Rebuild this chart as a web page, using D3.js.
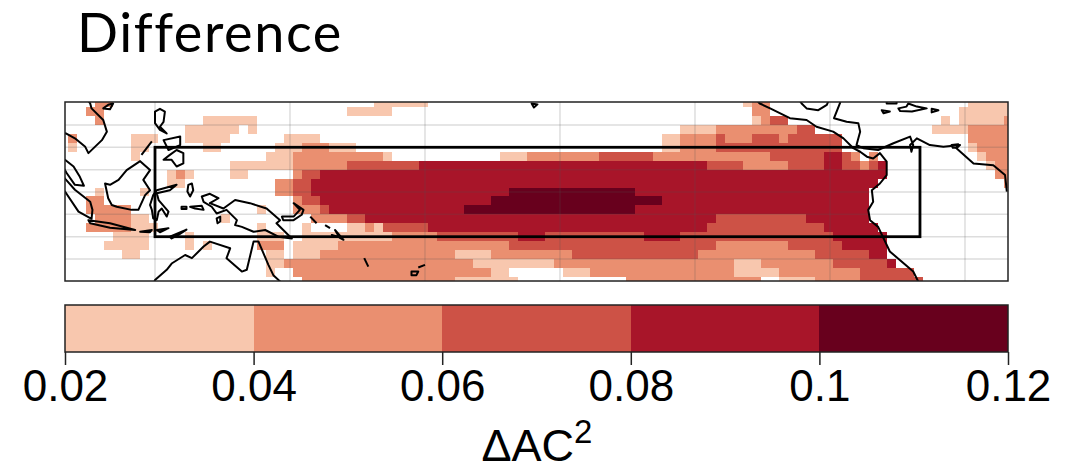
<!DOCTYPE html>
<html>
<head>
<meta charset="utf-8">
<script src="https://d3js.org/d3.v7.min.js"></script>
<style>
  html, body { margin: 0; padding: 0; background: #fff; }
  svg { display: block; }
</style>
</head>
<body>
<svg id="chart" width="1084" height="466"></svg>
<script>
// colour bar
const levelEdges = [0.02, 0.04, 0.06, 0.08, 0.1, 0.12];
const levelColors = ["#f8c7ae", "#ea8f70", "#cd5246", "#a81529", "#68001d"];
const tickNames = ["0.02", "0.04", "0.06", "0.08", "0.1", "0.12"];

// 2 degree grid, one list per latitude: [first column, last column, level 1-5]
const firstLon = 99.67;
const firstLat = 20;
const row0 = [[4,5,2],[35,40,1],[76,76,1],[77,78,2],[101,105,1]];
const row1 = [[3,4,2],[32,36,1],[77,78,2],[100,105,1]];
const row2 = [[4,4,2],[16,21,1],[77,77,1],[78,78,2],[79,80,3],[98,98,1],[100,104,1],[105,105,2]];
const row3 = [[14,19,1],[21,21,1],[69,72,1],[73,81,2],[82,83,3],[97,100,1],[101,105,2]];
const row4 = [[1,1,2],[8,10,1],[14,18,1],[25,28,1],[67,68,1],[69,72,2],[73,73,3],[74,76,2],[77,79,3],[80,80,2],[81,86,3],[101,105,2]];
const row5 = [[1,1,1],[8,9,1],[16,17,1],[24,26,1],[27,29,2],[30,32,1],[67,68,1],[69,72,2],[73,86,3],[101,101,1],[102,105,2]];
const row6 = [[8,8,1],[23,25,1],[26,35,2],[36,36,1],[49,51,1],[52,59,2],[60,65,3],[66,78,2],[79,84,3],[85,86,4],[87,87,3],[88,88,2],[90,90,2],[102,102,1],[103,105,2]];
const row7 = [[19,25,1],[26,31,2],[32,39,3],[40,71,4],[72,75,3],[76,80,2],[81,84,3],[85,86,4],[87,88,3],[89,89,2],[90,90,3],[91,91,4],[103,103,1],[104,105,2]];
const row8 = [[12,12,1],[13,13,2],[14,14,1],[19,20,1],[26,26,2],[27,28,3],[29,91,4],[104,105,2]];
const row9 = [[12,13,1],[24,25,2],[26,27,3],[28,90,4],[105,105,2]];
const row10 = [[4,4,1],[9,9,1],[24,25,2],[26,27,3],[28,49,4],[50,63,5],[64,89,4]];
const row11 = [[3,4,2],[26,26,2],[27,28,3],[29,47,4],[48,66,5],[67,89,4]];
const row12 = [[3,7,2],[22,22,1],[26,28,2],[29,29,3],[30,44,4],[45,63,5],[64,89,4]];
const row13 = [[4,7,2],[8,9,1],[18,18,1],[28,31,2],[32,33,3],[34,72,4],[73,82,3],[83,89,4]];
const row14 = [[3,7,2],[8,10,1],[22,22,1],[27,27,1],[32,33,1],[34,34,2],[35,35,1],[36,40,3],[41,71,4],[72,84,3],[85,90,4]];
const row15 = [[6,9,1],[14,14,1],[22,24,1],[27,36,1],[37,41,2],[42,50,3],[51,53,4],[54,64,3],[65,68,4],[69,85,3],[86,91,4]];
const row16 = [[5,9,1],[14,14,1],[16,16,1],[22,24,2],[26,30,1],[31,49,2],[50,72,3],[73,80,2],[81,86,3],[87,91,4]];
const row17 = [[7,8,1],[23,24,1],[26,28,1],[29,43,2],[44,47,1],[48,56,2],[57,70,3],[71,83,2],[84,89,3],[90,91,4]];
const row18 = [[23,24,1],[25,45,2],[46,54,1],[55,74,2],[75,77,1],[78,85,2],[86,91,3],[92,92,4]];
const row19 = [[23,23,1],[26,47,2],[48,49,1],[56,58,1],[59,74,2],[75,79,1],[80,88,2],[89,94,3]];
const row20 = [[27,43,2],[44,50,1],[63,77,2],[80,83,1],[84,88,2],[89,95,3]];
const heatRows = [row0,row1,row2,row3,row4,row5,row6,row7,row8,row9,row10,row11,row12,row13,row14,row15,row16,row17,row18,row19,row20];

// coastlines, [lon, lat], traced by eye
const coastOpen = [
  [[105.3,20.2],[105.6,19.8],[105.9,18.7],[108.5,16.1],[109.3,13.5],[108.2,11.6],[105.2,8.7],[104.5,10.1],[102.2,12],[100.2,13.1],[99.8,13.2]],
  [[99.8,7.3],[100,7.2],[101.9,5.7],[103.3,3.4],[104.2,1.4],[102.2,1.6],[100.4,4.2],[99.8,5.2]],
  [[99.8,3.2],[100,3],[102.2,.5],[105.6,-2.2],[106.1,-4],[105.9,-6],[103,-4.4],[100,.1],[99.8,.3]],
  [[119.8,-20.2],[120,-19.7],[122.6,-17.4],[123.7,-16],[126.7,-14.1],[128.2,-14.8],[130.8,-12.2],[132.2,-11.1],[136.7,-12.6],[135.9,-14.8],[139.3,-17.8],[140.4,-17.4],[141.9,-11.1],[143,-11.1],[145.2,-16.3],[146.3,-18.6],[147.8,-20],[148,-20.2]],
  [[117,8.3],[119.3,11.3]],
  [[154.5,-5.5],[155.9,-7]],
  [[157.8,-7.4],[158.9,-8.1]],
  [[166.5,-14.8],[167.4,-16.7]],
  [[178.5,-16.9],[180,-16.3]],
  [[254,20.2],[254.4,19.8],[256.7,18.7],[261.1,16.5],[264.8,16.1],[267,14.6],[270.7,13.5],[273,12],[275.2,9.8],[276.7,9],[278.2,7.9],[279.6,7.5],[281.1,8.7],[282.6,6.8],[282.6,3.8],[281.1,1.9],[279.3,.4],[279.6,-2.2],[278.5,-4],[278.9,-6.3],[280.7,-7.8],[283.3,-13.3],[288.5,-17.8],[289.6,-20],[289.7,-20.2]],
  [[263.4,20.2],[263.7,19.8],[264.8,18.7],[267.4,18.3],[269.3,19.5],[269.6,20.2]],
  [[272.3,20.2],[272.2,19.8],[270.9,16.5],[273.7,15.7],[276.3,15.4],[276.7,13.5],[275.9,10.5],[277.4,9.8],[280.7,9.4],[284.1,10.9],[287.8,12.4],[288.5,10.5],[288.1,9],[287.8,10.5],[289.3,12],[292.2,10.5],[295.2,10.1],[298.9,10.5],[298.1,9.8],[301.9,6.4],[306.3,6],[308.9,3.8],[309.3,.1]],
  [[282.6,20.2],[282.6,19.8],[284.8,19.8],[284.8,20.2]]
];
const coastClosed = [
  [[108.5,18.7],[109.6,19.5],[110.7,19.8],[110,18.5]],
  [[105.2,-6.3],[110,-7],[115.6,-8.5],[110,-8],[105.6,-7]],
  [[108.9,1.9],[110,1.6],[111.9,2.7],[113.7,4.9],[116.7,6.9],[118.9,4.9],[117.4,2.7],[118.9,.4],[117.8,-.7],[116.3,-4],[114.8,-4],[111.5,-3.3],[110.4,-2.9],[109.6,-1.4]],
  [[120,18],[121.1,18.6],[122.2,18],[121.9,15.7],[121.1,14.6],[122.6,13.1],[121.1,13.9],[120,15.4]],
  [[121.9,11.6],[125.6,12.4],[125.6,10.5],[123,9.4]],
  [[121.9,7.2],[123.3,8.3],[124.8,9.4],[126.3,8.7],[126.3,6.4],[124.8,5.7],[123.7,7.2]],
  [[118.9,-2.9],[119.6,-.7],[120.4,.4],[124.8,1.6],[123.3,.4],[120.4,-.3],[120.8,-1.8],[123,-4.4],[122.6,-5.5],[121.5,-3.7],[120.8,-4.4],[120.4,-6.3],[119.6,-5.9],[119.3,-4]],
  [[127.4,1.6],[128.2,1.9],[128.5,.4],[127.8,-1],[127.2,.1]],
  [[125.9,-3.3],[127,-3.3],[127,-3.8],[125.9,-3.8]],
  [[127.8,-3.3],[130.4,-3.1],[130.8,-4],[128.9,-3.7]],
  [[130.4,-1],[132.2,-.4],[134.1,-1.4],[132.2,-2.5],[135.2,-3.7],[137.8,-1.8],[141.1,-2.5],[144.8,-3.7],[147.8,-6.3],[147,-7],[150.4,-10.4],[147.4,-10],[144.5,-8.5],[141.9,-8.9],[139.3,-7.8],[137.8,-7.4],[138.2,-6.3],[135.9,-4],[133.7,-4.8],[132.6,-3.3],[130.8,-2.2]],
  [[116.7,-8.9],[119.3,-8.5],[118.9,-9]],
  [[120.4,-8.5],[123,-8.1],[121.1,-9]],
  [[123.3,-10],[127,-8.4],[125.2,-9.6],[123.7,-10.4]],
  [[133.7,-5.9],[134.5,-5.5],[134.5,-6.6],[133.9,-7]],
  [[148.2,-5.5],[150.8,-5.5],[152.2,-4],[150.8,-2.5],[153,-4],[152.6,-5.1],[150.8,-6.3],[148.5,-6.3]],
  [[160,-8.5],[161.9,-10.7],[161,-10.2]],
  [[159.3,-9.6],[160.7,-10],[159.5,-10]],
  [[177,-17.8],[178.5,-17.8],[178.1,-18.6],[177,-18.6]],
  [[203.7,19.8],[205,19.6],[204.2,18.9]],
  [[297,10.5],[298.5,10.7],[298.1,9.9],[297.3,9.9]],
  [[281.5,18.3],[283.3,18],[281.9,17.6]],
  [[285.2,18.7],[287,19.1],[287.4,19.8],[289.3,19.1],[291.5,18.7],[288.2,18],[285.6,18.1]],
  [[292.6,18.6],[294.1,18.3],[292.6,17.8]]
];

// grid lines and the averaging box
const lonLines = [120, 150, 180, 210, 240, 270, 300];
const latLines = [15, 10, 5, 0, -5, -10, -15];
const boxLons = [120, 290];
const boxLats = [10, -10];

const svg = d3.select("#chart");

const x = d3.scaleLinear().domain([100, 309.56]).range([65, 1008]);
const y = d3.scaleLinear().domain([20.13, -19.91]).range([102, 281]);

//Title
svg.append("text")
    .attr("x", 77)
    .attr("y", 52)
    .style("font-family", "Lato, sans-serif")
    .style("font-size", "54px")
    .style("font-variant-ligatures", "none")
    .style("letter-spacing", "1.6px")
    .style("fill", "#000")
    .text("Difference");

svg.append("clipPath")
    .attr("id", "mapClip")
    .append("rect")
    .attr("x", 65)
    .attr("y", 102)
    .attr("width", 943)
    .attr("height", 179);

const map = svg.append("g").attr("clip-path", "url(#mapClip)");

//Cells
const cellColor = level => levelColors[level - 1];
heatRows.forEach((runs, r) => {
    const lat = firstLat - 2 * r;
    map.append("g")
        .selectAll("rect")
        .data(runs)
        .join("rect")
        .attr("x", d => x(firstLon + 2 * d[0] - 1))
        .attr("width", d => x(firstLon + 2 * d[1] + 1) - x(firstLon + 2 * d[0] - 1))
        .attr("y", y(lat + 1))
        .attr("height", y(lat - 1) - y(lat + 1))
        .attr("fill", d => cellColor(d[2]))
        .attr("shape-rendering", "crispEdges");
});

//Grid
map.append("g")
    .selectAll("line")
    .data(lonLines)
    .join("line")
    .attr("x1", d => x(d))
    .attr("x2", d => x(d))
    .attr("y1", 102)
    .attr("y2", 281)
    .style("stroke", "#555")
    .style("stroke-opacity", 0.2)
    .style("stroke-width", 1.5);
map.append("g")
    .selectAll("line")
    .data(latLines)
    .join("line")
    .attr("x1", 65)
    .attr("x2", 1008)
    .attr("y1", d => y(d))
    .attr("y2", d => y(d))
    .style("stroke", "#555")
    .style("stroke-opacity", 0.2)
    .style("stroke-width", 1.5);

//Coast
const coastLine = d3.line().x(d => x(d[0])).y(d => y(d[1]));
const coast = map.append("g")
    .style("fill", "none")
    .style("stroke", "#000")
    .style("stroke-width", 2)
    .style("stroke-linejoin", "round");
coast.selectAll("path.open")
    .data(coastOpen)
    .join("path")
    .attr("class", "open")
    .attr("d", coastLine);
coast.selectAll("path.closed")
    .data(coastClosed)
    .join("path")
    .attr("class", "closed")
    .attr("d", d => coastLine(d) + "Z");

//Box
svg.append("rect")
    .attr("x", x(boxLons[0]))
    .attr("y", y(boxLats[0]))
    .attr("width", x(boxLons[1]) - x(boxLons[0]))
    .attr("height", y(boxLats[1]) - y(boxLats[0]))
    .style("fill", "none")
    .style("stroke", "#000")
    .style("stroke-width", 2.8);

//Frame
svg.append("rect")
    .attr("x", 65)
    .attr("y", 102)
    .attr("width", 943)
    .attr("height", 179)
    .style("fill", "none")
    .style("stroke", "#222")
    .style("stroke-width", 1.5);

//Colour bar
const barScale = d3.scaleLinear().domain([0.02, 0.12]).range([65, 1008]);
svg.append("g")
    .selectAll("rect")
    .data(levelColors)
    .join("rect")
    .attr("x", (d, i) => barScale(levelEdges[i]))
    .attr("width", (d, i) => barScale(levelEdges[i + 1]) - barScale(levelEdges[i]))
    .attr("y", 305)
    .attr("height", 47)
    .attr("fill", d => d)
    .attr("shape-rendering", "crispEdges");
svg.append("rect")
    .attr("x", 65)
    .attr("y", 305)
    .attr("width", 943)
    .attr("height", 47)
    .style("fill", "none")
    .style("stroke", "#222")
    .style("stroke-width", 1.5);

const barAxis = d3.axisBottom(barScale)
    .tickValues(levelEdges)
    .tickFormat((d, i) => tickNames[i])
    .tickSize(13)
    .tickPadding(5);
const barAxisG = svg.append("g")
    .attr("transform", "translate(0, 352)")
    .call(barAxis);
barAxisG.select(".domain").remove();
barAxisG.selectAll("line")
    .style("stroke", "#222")
    .style("stroke-width", 1.5);
barAxisG.selectAll("text")
    .style("font-family", "'Liberation Sans', sans-serif")
    .style("font-size", "44px")
    .style("fill", "#000");

//Bar title
const barTitle = svg.append("text")
    .attr("x", 537)
    .attr("y", 461)
    .attr("text-anchor", "middle")
    .style("font-family", "'Liberation Sans', sans-serif")
    .style("font-size", "45px")
    .style("fill", "#000");
barTitle.append("tspan").text("ΔAC");
barTitle.append("tspan")
    .attr("dy", -18)
    .style("font-size", "33px")
    .text("2");
</script>
</body>
</html>
